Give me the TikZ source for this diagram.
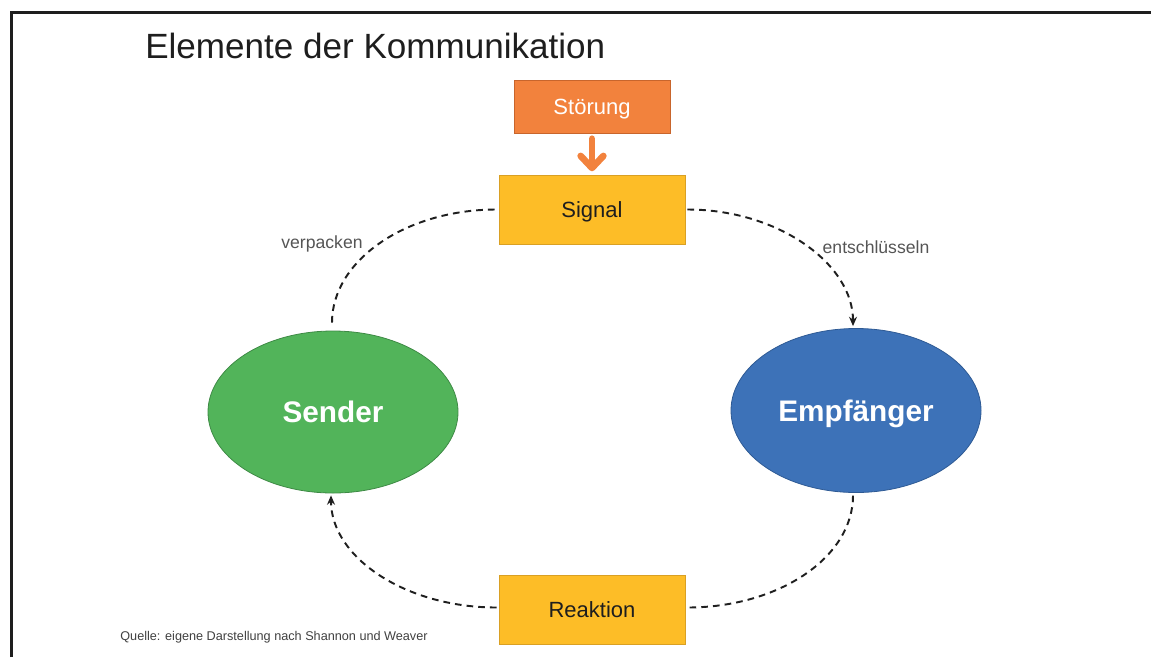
\documentclass[tikz,border=0pt]{standalone}
\usepackage{fontspec}
\setmainfont{Liberation Sans}
\usetikzlibrary{shapes.geometric,arrows.meta}

\definecolor{stoerfill}{HTML}{F2823D}
\definecolor{stoerline}{HTML}{C8652C}
\definecolor{sigfill}{HTML}{FDBD27}
\definecolor{sigline}{HTML}{D9A024}
\definecolor{sendfill}{HTML}{52B45A}
\definecolor{sendline}{HTML}{3E8A45}
\definecolor{empfill}{HTML}{3D72B8}
\definecolor{empline}{HTML}{2E5A94}
\definecolor{labelgray}{HTML}{555555}
\definecolor{titlegray}{HTML}{1E1E1E}

\begin{document}
\begin{tikzpicture}[x=0.75pt,y=-0.75pt,
  frameline/.style={draw=titlegray,line width=2.25pt},
  colbox/.style={rectangle,inner sep=0pt,line width=0.6pt,text depth=0pt,
    font=\fontsize{16.5pt}{19pt}\selectfont},
  oval/.style={ellipse,inner sep=0pt,line width=0.6pt,text=white,
    text depth=0pt,font=\fontsize{22.3pt}{26pt}\selectfont\bfseries},
  flowline/.style={dash pattern=on 5pt off 3.8pt,line width=1.45pt,
    draw=black!88},
  flowarrow/.style={flowline,-{Stealth[length=7pt,width=6pt]}},
  steplabel/.style={text=labelgray,inner sep=0pt,
    font=\fontsize{13.2pt}{15pt}\selectfont},
  disturb/.style={draw=stoerfill,line width=5pt,line cap=round,
    -{Straight Barb[round,length=9pt,width=17pt]}}
]
\useasboundingbox (0,0) rectangle (1151,657);

% frame, open to the right and bottom
\draw[frameline] (11,657) -- (11,12) -- (1151,12);

% title
\node[anchor=base west,inner sep=0pt,text=titlegray,
  font=\fontsize{26.3pt}{30pt}\selectfont] (title) at (145,58)
  {Elemente der Kommunikation};

% boxes
\node[colbox,fill=stoerfill,draw=stoerline,text=white,
  minimum width=117pt,minimum height=39.75pt] (stoer) at (592,106.5) {Störung};
\node[colbox,fill=sigfill,draw=sigline,text=titlegray,
  minimum width=139.5pt,minimum height=51.75pt] (sig) at (592,209.5) {Signal};
\node[colbox,fill=sigfill,draw=sigline,text=titlegray,
  minimum width=139.5pt,minimum height=51.75pt] (reak) at (592,609.5) {Reaktion};

% sender and receiver
\node[oval,fill=sendfill,draw=sendline,
  minimum width=187.5pt,minimum height=121.5pt] (snd) at (333,412) {Sender};
\node[oval,fill=empfill,draw=empline,
  minimum width=187.5pt,minimum height=123pt] (emp) at (856,410.5) {Empfänger};

% disturbance acting on the signal
\draw[disturb] ([yshift=-4pt]stoer.south) -- ([yshift=2.5pt]sig.north);

% communication loop
\draw[flowline] ([xshift=-0.75pt,yshift=6pt]snd.north)
  .. controls +(0,-62) and +(-91,0) .. ([xshift=-1.5pt]sig.west);
\draw[flowarrow] ([xshift=1.5pt]sig.east)
  .. controls +(91,0) and +(0,-62) .. ([xshift=-2.25pt,yshift=1.5pt]emp.north);
\draw[flowline] ([xshift=-2.25pt,yshift=-2pt]emp.south)
  .. controls +(0,62) and +(91,0) .. ([xshift=1.5pt,yshift=1.5pt]reak.east);
\draw[flowarrow] ([xshift=-1.5pt,yshift=1.5pt]reak.west)
  .. controls +(-91,0) and +(0,62) .. ([xshift=-1.5pt,yshift=-1.5pt]snd.south);

% step labels
\node[steplabel] (lblpack) at (322,244) {verpacken};
\node[steplabel] (lbldecode) at (876,247) {entschlüsseln};

% source note
\node[inner sep=0pt,text=titlegray!85,font=\fontsize{9.5pt}{11pt}\selectfont]
  (source) at (274,637) {Quelle: eigene Darstellung nach Shannon und Weaver};
\end{tikzpicture}
\end{document}
